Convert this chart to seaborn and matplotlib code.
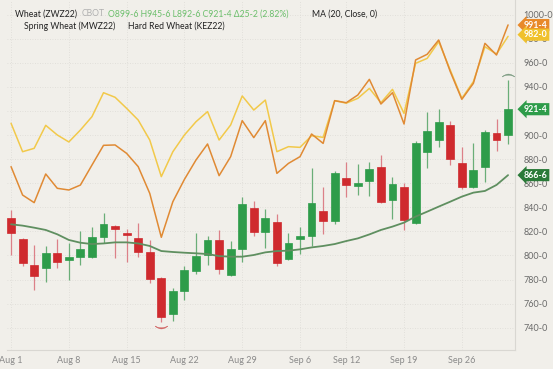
"""Wheat (ZWZ22) daily candles with spring / hard red wheat comparison lines."""

import matplotlib.pyplot as plt
import matplotlib.transforms as mtransforms
import numpy as np
import pandas as pd
import seaborn as sns

####################################################################################################
## DATA

# trading days, Aug 1 .. Sep 30 2022 (index positions on the chart)
DATES = pd.bdate_range('2022-08-01', '2022-09-30').drop(pd.Timestamp('2022-09-05'))

OPEN = [830.9, 813.7, 792.4, 789.3, 801.8, 796.0, 799.0, 799.0, 815.6, 824.5,
        819.0, 814.2, 802.6, 781.0, 751.0, 770.8, 787.1, 800.4, 812.8, 783.5,
        805.6, 839.7, 819.5, 828.1, 797.3, 814.0, 816.2, 836.7, 828.3, 864.1,
        857.7, 862.2, 873.2, 846.1, 856.6, 826.7, 886.0, 895.9, 908.4, 876.6,
        857.2, 873.8, 902.0, 899.75]
HIGH = [837.8, 814.5, 808.7, 808.0, 813.4, 810.0, 820.6, 824.0, 835.6, 825.5,
        821.7, 826.7, 812.9, 782.0, 772.7, 791.2, 818.9, 816.4, 821.0, 812.3,
        848.8, 845.5, 838.3, 834.2, 818.9, 824.0, 872.4, 856.6, 870.4, 877.4,
        875.7, 878.0, 883.5, 865.5, 860.0, 895.1, 918.9, 921.4, 912.0, 889.9,
        893.7, 904.3, 913.0, 945.75]
LOW = [800.4, 791.0, 771.3, 778.0, 789.3, 780.0, 792.0, 798.0, 810.0, 797.6,
       795.0, 799.0, 777.0, 745.0, 746.0, 763.0, 785.0, 792.0, 785.0, 783.0,
       794.8, 816.0, 806.0, 791.3, 796.0, 801.0, 808.0, 817.8, 826.0, 848.3,
       850.3, 849.0, 844.0, 830.0, 821.0, 826.0, 872.4, 890.4, 875.0, 855.0,
       856.0, 861.0, 887.0, 892.75]
CLOSE = [818.4, 794.0, 783.0, 801.8, 794.9, 799.0, 805.7, 815.6, 825.9, 822.0,
         817.3, 802.6, 780.2, 748.6, 770.8, 787.9, 799.8, 812.8, 788.7, 805.1,
         842.5, 819.8, 830.8, 793.5, 810.1, 816.2, 843.9, 828.6, 868.8, 858.5,
         860.0, 871.9, 844.4, 859.1, 829.5, 893.2, 903.4, 910.6, 879.9, 857.2,
         871.0, 902.9, 896.25, 921.5]

MA20 = [825.9, 824.8, 823.1, 821.2, 817.6, 812.9, 810.6, 809.5, 810.0, 810.9,
        810.9, 810.0, 807.9, 803.7, 802.9, 802.3, 801.8, 801.2, 799.5, 799.0,
        799.0, 800.4, 802.6, 803.7, 804.0, 805.1, 806.7, 807.9, 809.5, 812.0,
        814.2, 817.5, 821.2, 824.0, 827.3, 832.3, 836.4, 840.6, 844.7, 848.9,
        852.2, 853.6, 858.6, 866.75]

SPRING = [909.8, 886.2, 889.0, 908.1, 900.1, 894.3, 904.2, 915.3, 935.2, 931.4,
          922.2, 912.5, 895.9, 865.5, 886.2, 900.1, 911.1, 919.5, 895.9, 908.4,
          932.5, 920.8, 929.1, 886.2, 890.4, 889.8, 899.5, 898.1, 928.6, 926.5,
          930.5, 938.8, 926.9, 938.0, 918.0, 959.6, 963.7, 977.6, 954.0, 930.5,
          944.4, 973.4, 967.3, 982.0]
HARD_RED = [873.8, 850.2, 843.9, 867.7, 855.8, 854.4, 858.5, 875.1, 891.5, 891.8,
            884.8, 873.8, 851.6, 815.1, 844.7, 863.2, 879.3, 892.6, 866.3, 882.1,
            912.0, 897.9, 912.0, 868.2, 876.5, 882.1, 900.9, 893.1, 928.6, 926.9,
            933.3, 946.3, 925.8, 935.2, 909.2, 962.4, 967.1, 979.0, 952.7, 929.7,
            943.0, 976.2, 966.5, 991.5]

TICK_DATES = ['2022-08-01', '2022-08-08', '2022-08-15', '2022-08-22', '2022-08-29',
              '2022-09-06', '2022-09-12', '2022-09-19', '2022-09-26']
TICK_LABELS = ['Aug 1', 'Aug 8', 'Aug 15', 'Aug 22', 'Aug 29',
               'Sep 6', 'Sep 12', 'Sep 19', 'Sep 26']
Y_TICKS = list(range(740, 1001, 20))

####################################################################################################
## SETTINGS

BG = '#f1efea'
UP = '#2e9c4a'
DOWN = '#cf2a2e'
UP_WICK = '#6aae78'
DOWN_WICK = '#dc8088'
MA_COL = '#5f8f60'
SPRING_COL = '#f2c94a'
HARD_COL = '#e08a34'
TEXT_GREEN = '#6cbf6c'
FONT = ['Lato', 'DejaVu Sans']
HEAD_SIZE = 6.2


def fmt_price(val):
    """Format price in cents and eighths, e.g. 921.5 -> 921-4."""
    whole = int(np.floor(val))
    return '{}-{}'.format(whole, int(round((val - whole) * 8)))


def px(x, y):
    """Pixel position (from top-left) to figure fraction."""
    return x / 553, 1 - y / 369


sns.set_theme(style='white')
plt.rcParams['font.family'] = FONT

df = pd.DataFrame({'date': DATES, 'open': OPEN, 'high': HIGH, 'low': LOW, 'close': CLOSE,
                   'ma': MA20, 'spring': SPRING, 'hard_red': HARD_RED})
df['x'] = np.arange(len(df))
df['up'] = df['close'] >= df['open']

fig = plt.figure(figsize=(5.53, 3.69), dpi=100, facecolor=BG)
ax = fig.add_axes([7 / 553, 19 / 369, 508 / 553, 350 / 369], facecolor=BG)

# comparison contracts
sns.lineplot(data=df, x='x', y='spring', color=SPRING_COL, lw=1.1, ax=ax, zorder=2)
sns.lineplot(data=df, x='x', y='hard_red', color=HARD_COL, lw=1.1, ax=ax, zorder=2)

# candles
for is_up, grp in df.groupby('up'):
    ax.vlines(grp['x'], grp['low'], grp['high'], color=UP_WICK if is_up else DOWN_WICK,
              lw=0.9, zorder=3)
    ax.bar(grp['x'], (grp['close'] - grp['open']).abs().clip(lower=1.2),
           bottom=grp[['open', 'close']].min(axis=1), width=0.68,
           color=UP if is_up else DOWN, edgecolor=UP if is_up else DOWN, lw=0.5, zorder=4)

sns.lineplot(data=df, x='x', y='ma', color=MA_COL, lw=1.3, ax=ax, zorder=5)

# period high / low markers
hi = df['high'].idxmax()
lo = df['low'].idxmin()
ax.plot(df.loc[hi, 'x'], df.loc[hi, 'high'] + 4.5, marker=r'$\frown$', ms=9,
        color='#7a9a80', mew=0.3, zorder=6)
ax.plot(df.loc[lo, 'x'], df.loc[lo, 'low'] - 4.5, marker=r'$\smile$', ms=9,
        color='#d06060', mew=0.3, zorder=6)

# axes
tick_pos = [int(np.where(df['date'] == pd.Timestamp(d))[0][0]) for d in TICK_DATES]
ax.set_xticks(tick_pos)
ax.set_xticklabels(TICK_LABELS)
ax.set_yticks(Y_TICKS)
ax.set_yticklabels([fmt_price(v) for v in Y_TICKS])
ax.yaxis.tick_right()
ax.tick_params(axis='y', length=0, pad=6, labelsize=6.5, labelcolor='#6a6a6a')
ax.tick_params(axis='x', length=0, pad=4, labelsize=6.5, labelcolor='#8a8a8a')
ax.set(xlim=[-0.35, 43.6], ylim=[721.5, 1012.2], xlabel=None, ylabel=None)
ax.grid(True, color='#dddbd6', lw=0.6, ls=(0, (1, 2)))
for side in ['top', 'left']:
    ax.spines[side].set_visible(False)
for side in ['right', 'bottom']:
    ax.spines[side].set_color('#d9d7d2')
    ax.spines[side].set_linewidth(0.8)

# last value tags (they sit over the axis labels, as in the terminal)
trans = mtransforms.blended_transform_factory(ax.transAxes, ax.transData)
tags = [(df['hard_red'].iloc[-1], '#e8892a', 991.4), (df['spring'].iloc[-1], '#f0c12c', 983.4),
        (df['close'].iloc[-1], '#2e9c4a', None), (df['ma'].iloc[-1], '#2a7a38', None)]
for val, col, ypos in tags:
    ax.text(1.0 + 9 / 508, val if ypos is None else ypos, fmt_price(val), transform=trans,
            ha='left', va='center', fontsize=6.3, fontweight='bold', color='white',
            bbox=dict(boxstyle='larrow,pad=0.18', fc=col, ec='none'), zorder=10, clip_on=False)

# header legend
fig.text(*px(15, 14), 'Wheat (ZWZ22)', fontsize=HEAD_SIZE, color='#222222', va='center')
fig.text(*px(82, 14), 'CBOT', fontsize=HEAD_SIZE, color='#b0b0b0', va='center')
fig.text(*px(108, 14), 'O899-6 H945-6 L892-6 C921-4 \u039425-2 (2.82%)', fontsize=HEAD_SIZE,
         color=TEXT_GREEN, va='center')
fig.text(*px(312, 14), 'MA (20, Close, 0)', fontsize=HEAD_SIZE, color='#222222', va='center')
fig.text(*px(24, 26), 'Spring Wheat (MWZ22)', fontsize=HEAD_SIZE, color='#222222', va='center')
fig.text(*px(128, 26), 'Hard Red Wheat (KEZ22)', fontsize=HEAD_SIZE, color='#222222',
         va='center')

plt.savefig('out.png', dpi=100, facecolor=BG)
